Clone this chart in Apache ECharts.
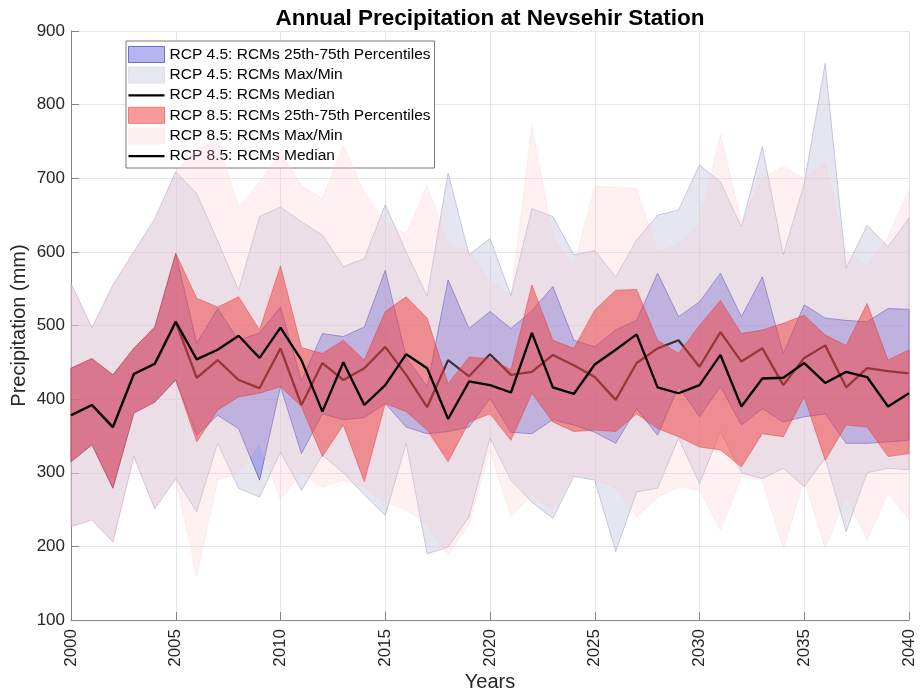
<!DOCTYPE html>
<html><head><meta charset="utf-8">
<script src="https://cdn.jsdelivr.net/npm/echarts@6/dist/echarts.min.js"></script>
<style>html,body{margin:0;padding:0;background:#fff}#c{width:921px;height:695px}</style>
</head><body><div id="c"></div>
<script>
const years = [2000,2001,2002,2003,2004,2005,2006,2007,2008,2009,2010,2011,2012,2013,2014,2015,2016,2017,2018,2019,2020,2021,2022,2023,2024,2025,2026,2027,2028,2029,2030,2031,2032,2033,2034,2035,2036,2037,2038,2039,2040];
const yTicks = [100,200,300,400,500,600,700,800,900];

const rcp45Median = [378,392,362,434,448,505, 429,453,426,415,469,392,449,426,442,471, 433,389,453,431,461,433,437,460,446,430, 399,449,469,480,444,491,451,469,419,456, 473,416,442,438,435];
const rcp85Median = [378,392,362,434,448,505, 454,467,486,456,497,453,383,450,392,419, 461,442,373,424,419,409,490,416,407,447, 467,488,416,408,419,460,390,428,429,449, 422,437,430,390,408];

const rcp45Q75 = [442,455,433,469,498,598, 476,523,480,490,525,425,489,485,498,575, 457,417,562,496,519,496,520,553,480,471, 494,507,571,512,532,571,512,566,462,528, 510,507,505,523,522];
const rcp45Q25 = [315,338,279,381,396,426, 351,378,360,290,417,326,380,372,375,394, 362,353,356,362,401,355,353,372,365,355, 340,387,351,417,376,417,365,387,369,376, 380,340,340,342,344];
const rcp85Q75 = [442,455,433,469,498,598, 537,525,539,494,581,470,462,480,453,519, 539,510,421,457,455,440,555,480,469,521, 548,549,480,462,500,534,489,494,503,514, 487,473,530,453,467];
const rcp85Q25 = [315,338,279,381,396,426, 342,385,403,408,417,390,322,365,288,394, 383,358,315,369,380,344,408,369,356,358, 356,380,360,349,335,331,308,353,349,403, 317,365,362,322,326];

const rcp45Max = [557,497,555,600,645,709, 679,615,548,648,661,641,623,580,591,664, 600,540,707,596,618,541,659,648,596,602, 566,616,650,657,718,695,634,743,596,693, 856,578,636,607,646];
const rcp45Min = [227,236,206,322,251,292, 247,340,279,267,328,276,324,300,270,242, 340,190,199,240,347,290,260,238,295,290, 193,274,279,347,285,356,300,292,306,281, 320,220,300,306,304];
const rcp85Max = [557,497,555,600,645,709, 740,750,661,695,735,690,672,745,680,640, 625,691,610,600,560,540,772,620,580,689, 688,686,600,610,640,759,640,700,716,700, 720,600,580,620,684];
const rcp85Min = [227,236,206,322,251,292, 159,290,300,340,263,300,280,290,280,260, 250,230,188,230,330,240,270,250,300,290, 280,240,267,281,276,222,294,290,197,290, 197,270,208,272,236];

const N45IQR = 'RCP 4.5: RCMs 25th-75th Percentiles';
const N45MM = 'RCP 4.5: RCMs Max/Min';
const N45MED = 'RCP 4.5: RCMs Median';
const N85IQR = 'RCP 8.5: RCMs 25th-75th Percentiles';
const N85MM = 'RCP 8.5: RCMs Max/Min';
const N85MED = 'RCP 8.5: RCMs Median';

const FONT = '"Liberation Sans", Arial, Helvetica, sans-serif';
const LINE_ICON = 'path://M0,0L0.001,0M0,7H36V9.2H0ZM36,16L35.999,16';

function band(name, lo, hi, fill, stroke, lw, z) {
  return {
    name: name, type: 'custom', z: z, silent: true,
    data: years.map((y, i) => [y, lo[i], hi[i]]),
    encode: { x: 0, y: [1, 2] },
    itemStyle: { color: fill, borderColor: stroke, borderWidth: 1 },
    renderItem: function (params, api) {
      if (params.dataIndex !== 0) return null;
      const pts = [];
      for (let i = 0; i < years.length; i++) pts.push(api.coord([years[i], hi[i]]));
      for (let i = years.length - 1; i >= 0; i--) pts.push(api.coord([years[i], lo[i]]));
      return { type: 'polygon', shape: { points: pts }, style: { fill: fill, stroke: stroke, lineWidth: lw } };
    }
  };
}
function medLine(name, vals, z) {
  return {
    name: name, type: 'line', z: z, silent: true, symbol: 'none', showSymbol: false,
    data: years.map((y, i) => [y, vals[i]]),
    lineStyle: { color: '#000', width: 2.3 },
    itemStyle: { color: '#000' }
  };
}

const chart = echarts.init(document.getElementById('c'), null, { renderer: 'canvas' });
const axisCol = '#858585';
chart.setOption({
  animation: false,
  backgroundColor: '#fff',
  textStyle: { fontFamily: FONT },
  graphic: [{
    type: 'text', x: 490, y: 7, z: 100,
    style: { text: 'Annual Precipitation at Nevsehir Station', font: 'bold 22.5px ' + FONT, fill: '#000', textAlign: 'center', textVerticalAlign: 'top' }
  }],
  grid: { left: 71, right: 12, top: 31, bottom: 75, containLabel: false, outerBoundsMode: 'none' },
  xAxis: {
    type: 'value', min: 2000, max: 2040, interval: 5,
    name: 'Years', nameLocation: 'middle', nameGap: 52, nameMoveOverlap: false,
    nameTextStyle: { fontSize: 20, color: '#262626', fontFamily: FONT },
    axisLine: { show: true, lineStyle: { color: axisCol, width: 1 } },
    axisTick: { show: true, inside: true, length: 8, lineStyle: { color: axisCol } },
    axisLabel: { rotate: 90, fontSize: 17, color: '#262626', margin: 9, fontFamily: FONT,
      formatter: function (v) { return String(v); } },
    splitLine: { show: true, lineStyle: { color: '#e6e6e6', width: 1 } }
  },
  yAxis: {
    type: 'value', min: yTicks[0], max: yTicks[yTicks.length - 1], interval: 100,
    name: 'Precipitation (mm)', nameLocation: 'middle', nameGap: 42, nameRotate: 90, nameMoveOverlap: false,
    nameTextStyle: { fontSize: 20, color: '#262626', fontFamily: FONT },
    axisLine: { show: true, lineStyle: { color: axisCol, width: 1 } },
    axisTick: { show: true, inside: true, length: 8, lineStyle: { color: axisCol } },
    axisLabel: { fontSize: 17, color: '#262626', margin: 6, fontFamily: FONT,
      formatter: function (v) { return String(v); } },
    splitLine: { show: true, lineStyle: { color: '#e6e6e6', width: 1 } }
  },
  legend: {
    orient: 'vertical', left: 126, top: 41, selectedMode: false,
    backgroundColor: '#fff', borderColor: '#7a7a7a', borderWidth: 1,
    padding: [5, 4, 4, 2], itemWidth: 36, itemHeight: 16, itemGap: 3.6,
    textStyle: { fontSize: 15.5, color: '#000', fontFamily: FONT, lineHeight: 16 },
    data: [
      { name: N45IQR, icon: 'rect', itemStyle: { color: '#b5b5ef', borderColor: '#6d6dcc', borderWidth: 1 } },
      { name: N45MM, icon: 'rect', itemStyle: { color: '#e7e7f0', borderColor: '#e0e0ea', borderWidth: 1 } },
      { name: N45MED, icon: LINE_ICON, itemStyle: { color: '#000', borderWidth: 0 } },
      { name: N85IQR, icon: 'rect', itemStyle: { color: '#f89a9a', borderColor: '#ee7a7a', borderWidth: 1 } },
      { name: N85MM, icon: 'rect', itemStyle: { color: '#fdf0f0', borderColor: '#fdf0f0', borderWidth: 1 } },
      { name: N85MED, icon: LINE_ICON, itemStyle: { color: '#000', borderWidth: 0 } }
    ]
  },
  series: [
    band(N45MM, rcp45Min, rcp45Max, 'rgba(200,200,225,0.45)', 'rgba(120,120,170,0.45)', 0.8, 1),
    band(N45IQR, rcp45Q25, rcp45Q75, 'rgba(100,100,220,0.45)', 'rgba(80,80,190,0.75)', 0.9, 2),
    medLine(N45MED, rcp45Median, 3),
    band(N85MM, rcp85Min, rcp85Max, 'rgba(255,200,200,0.25)', 'rgba(250,190,190,0.4)', 0.6, 4),
    band(N85IQR, rcp85Q25, rcp85Q75, 'rgba(240,60,60,0.5)', 'rgba(225,60,60,0.6)', 0.8, 5),
    medLine(N85MED, rcp85Median, 6)
  ]
});
</script></body></html>
